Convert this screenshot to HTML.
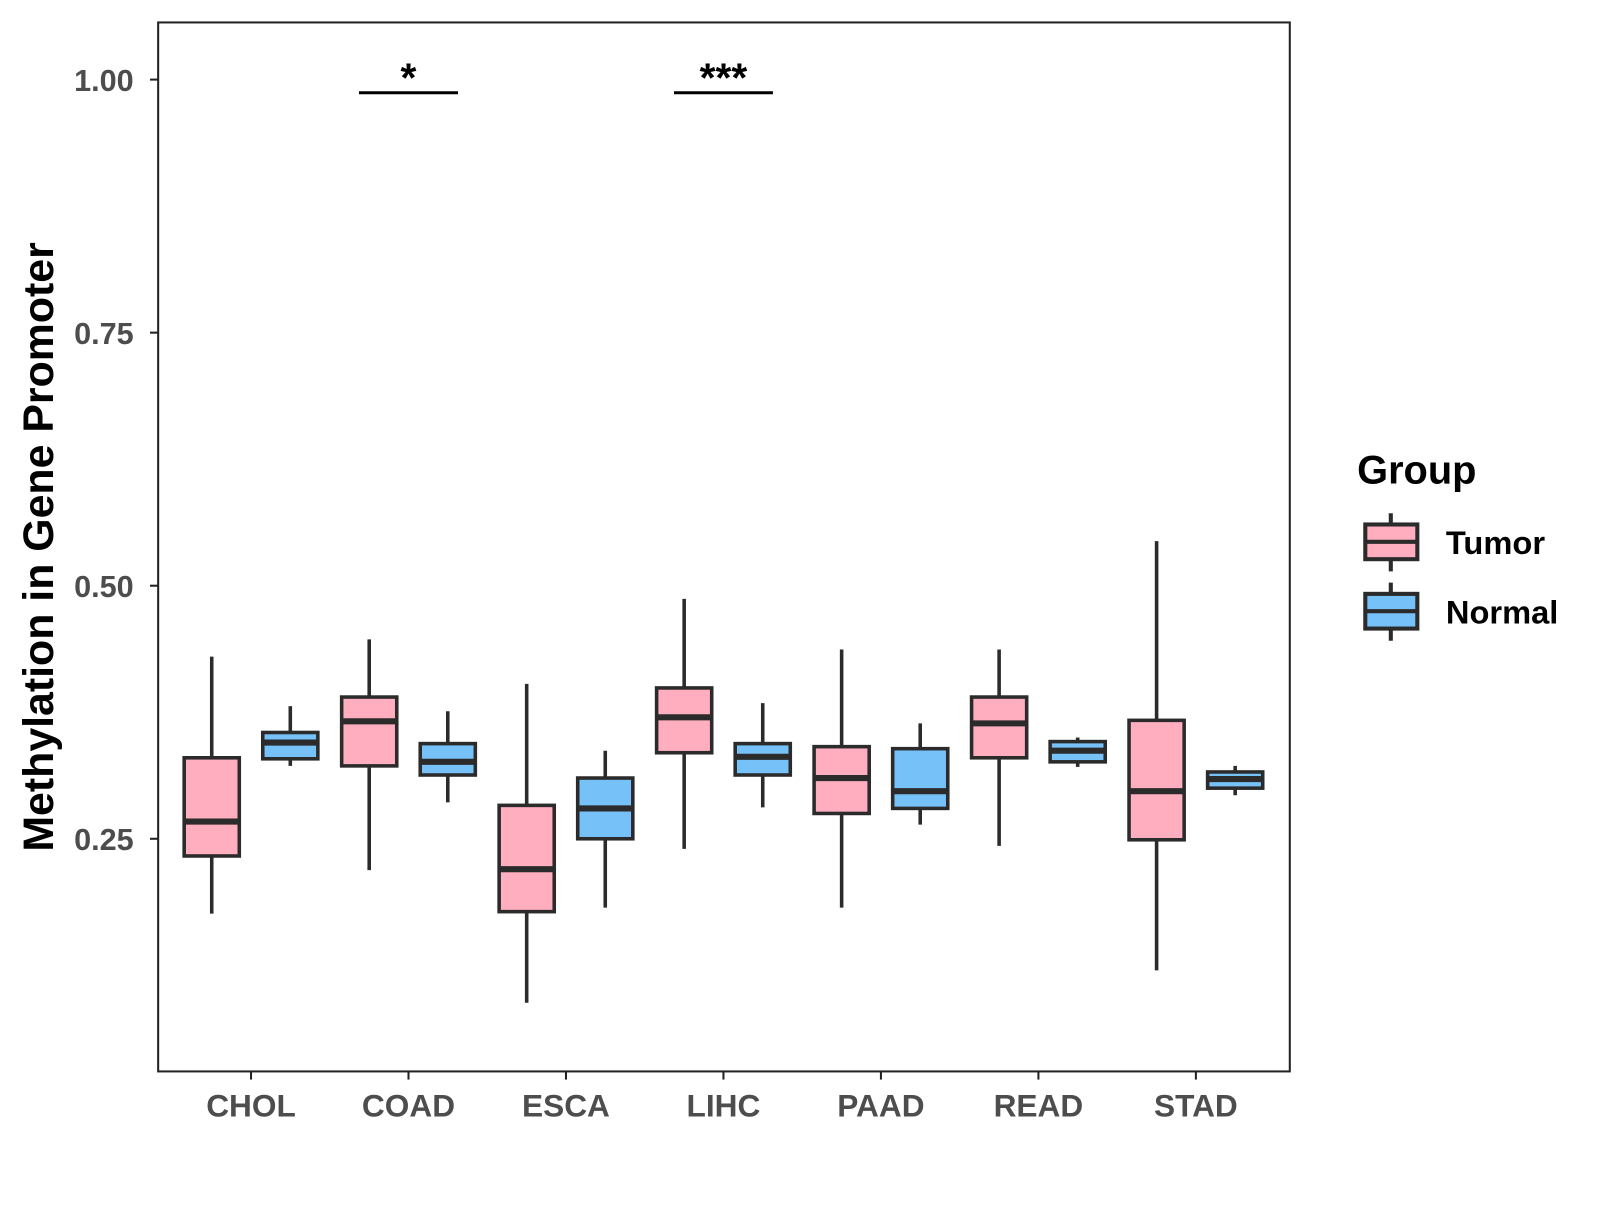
<!DOCTYPE html>
<html><head><meta charset="utf-8"><style>
body{margin:0;background:#fff;}
svg text{font-family:"Liberation Sans",sans-serif;font-weight:bold;}
</style></head><body>
<svg id="chart" width="1600" height="1200" xmlns="http://www.w3.org/2000/svg">
<g transform="scale(1.0204)">
<rect x="155" y="22" width="1109" height="1028" fill="#fff" stroke="#222" stroke-width="2"/>
<g id="yaxis"></g>
<g id="xaxis"></g>
<g id="boxes"></g>
<g id="sig"></g>
<text transform="translate(52,536) rotate(-90)" text-anchor="middle" font-size="42" fill="#000">Methylation in Gene Promoter</text>
<g>
<text x="1330" y="474" font-size="39" fill="#000">Group</text>
<g>
<line x1="1363" y1="503" x2="1363" y2="560" stroke="#2b2b2b" stroke-width="4"/>
<rect x="1338" y="514" width="51" height="34" fill="#FFAEC0" stroke="#2b2b2b" stroke-width="4"/>
<line x1="1338" y1="531" x2="1389" y2="531" stroke="#2b2b2b" stroke-width="4"/>
<text x="1417" y="543" font-size="32" fill="#000">Tumor</text></g>
<g>
<line x1="1363" y1="571" x2="1363" y2="628" stroke="#2b2b2b" stroke-width="4"/>
<rect x="1338" y="582" width="51" height="34" fill="#76C1F8" stroke="#2b2b2b" stroke-width="4"/>
<line x1="1338" y1="599" x2="1389" y2="599" stroke="#2b2b2b" stroke-width="4"/>
<text x="1417" y="611" font-size="32" fill="#000">Normal</text></g>
</g>
</g>
</svg>
<script>
const categories=["CHOL","COAD","ESCA","LIHC","PAAD","READ","STAD"];
const yTicks=[0.25,0.5,0.75,1.0];
const yTickLabels=["0.25","0.50","0.75","1.00"];
// [low, q1, median, q3, high]
const tumorStats=[[0.176,0.233,0.267,0.330,0.430],[0.219,0.322,0.366,0.390,0.447],[0.088,0.178,0.220,0.283,0.403],[0.240,0.335,0.370,0.399,0.487],[0.182,0.275,0.310,0.341,0.437],[0.243,0.330,0.364,0.390,0.437],[0.120,0.249,0.297,0.367,0.544]];
const normalStats=[[0.322,0.329,0.345,0.355,0.381],[0.286,0.313,0.326,0.344,0.376],[0.182,0.250,0.280,0.310,0.337],[0.281,0.313,0.331,0.344,0.384],[0.264,0.280,0.297,0.339,0.364],[0.321,0.326,0.337,0.346,0.350],[0.293,0.300,0.309,0.316,0.322]];
const sigCategories=["COAD","LIHC"];
const sigLabels=["*","***"];
const sigLevel=0.987;

const NS="http://www.w3.org/2000/svg";
function y(v){return 78+(1-v)*992;}
function x(i){return 246+i*154.33;}
function mk(tag,attrs,parent,txt){const e=document.createElementNS(NS,tag);for(const k in attrs)e.setAttribute(k,attrs[k]);if(txt!==undefined)e.textContent=txt;parent.appendChild(e);return e;}
const ya=document.getElementById('yaxis'),xa=document.getElementById('xaxis'),bx=document.getElementById('boxes'),sg=document.getElementById('sig');
yTicks.forEach((t,i)=>{
  const l=mk('line',{x1:147,x2:155,y1:y(t),y2:y(t),stroke:'#222','stroke-width':2},ya);
  
  
  const tx=mk('text',{x:131,y:y(t)+11,'text-anchor':'end','font-size':30,fill:'#4d4d4d'},ya,yTickLabels[i]);
  
  
});
categories.forEach((c,i)=>{
  const l=mk('line',{x1:x(i),x2:x(i),y1:1050,y2:1058,stroke:'#222','stroke-width':2},xa);
  
  
  const tx=mk('text',{x:x(i),y:1094,'text-anchor':'middle','font-size':31,fill:'#4d4d4d'},xa,c);
  
  
});
function box(cx,s,fill,name){
  const g=mk('g',{},bx);
  
  
  const w=54,st='#2b2b2b';
  mk('line',{x1:cx,x2:cx,y1:y(s[4]),y2:y(s[0]),stroke:st,'stroke-width':3.5},g);
  mk('rect',{x:cx-w/2,y:y(s[3]),width:w,height:y(s[1])-y(s[3]),fill:fill,stroke:st,'stroke-width':3.5},g);
  mk('line',{x1:cx-w/2,x2:cx+w/2,y1:y(s[2]),y2:y(s[2]),stroke:st,'stroke-width':6},g);
}
categories.forEach((c,i)=>{
  box(x(i)-38.5,tumorStats[i],'#FFAEC0','box-tumor-'+c.toLowerCase());
  box(x(i)+38.5,normalStats[i],'#76C1F8','box-normal-'+c.toLowerCase());
});
sigCategories.forEach((c,k)=>{
  const i=categories.indexOf(c);
  const l=mk('line',{x1:x(i)-48.5,x2:x(i)+48.5,y1:y(sigLevel),y2:y(sigLevel),stroke:'#000','stroke-width':3},sg);
  
  
  const t=mk('text',{x:x(i),y:y(sigLevel)-1,'text-anchor':'middle','font-size':40,fill:'#000'},sg,sigLabels[k]);
  
  
});
</script>
</body></html>
